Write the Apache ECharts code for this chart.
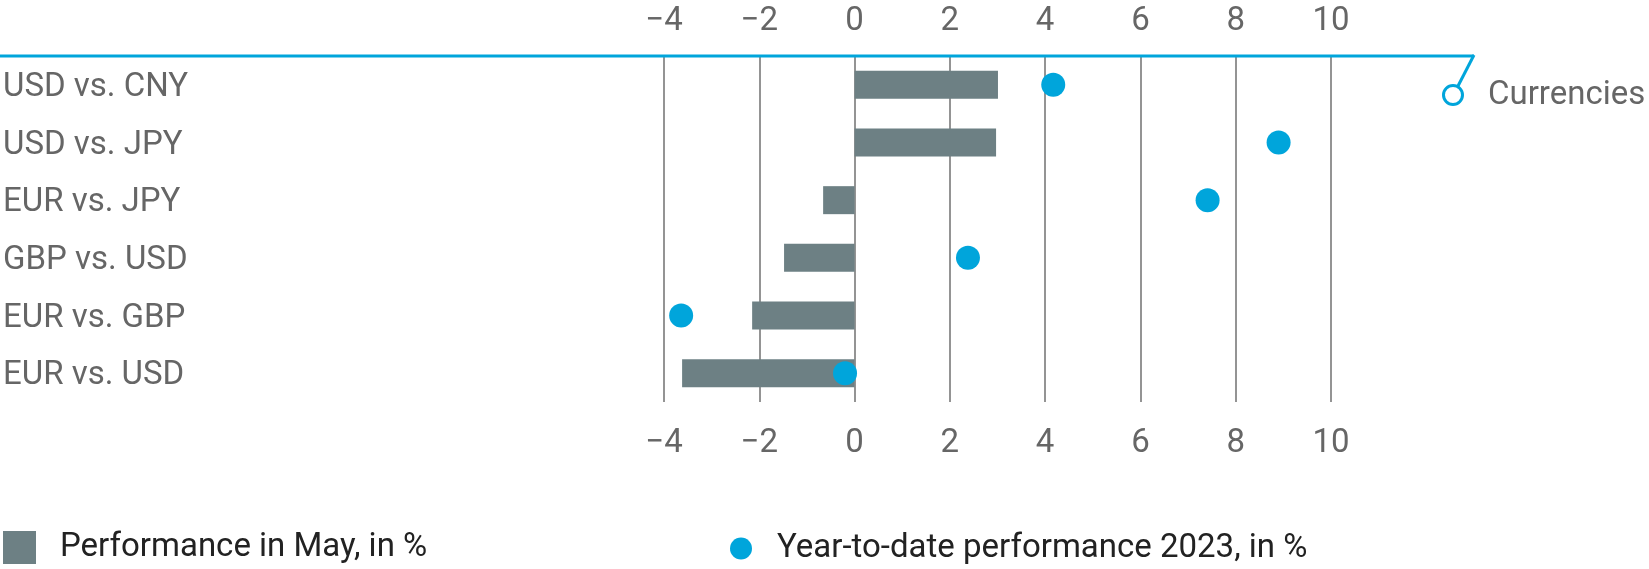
<!DOCTYPE html>
<html>
<head>
<meta charset="utf-8">
<script src="https://cdn.jsdelivr.net/npm/echarts@6/dist/echarts.min.js"></script>
<style>
html,body{margin:0;padding:0;background:#fff;}
#chart{width:1649px;height:569px;}
</style>
</head>
<body>
<div id="chart"></div>
<script>
const categories = ['USD vs. CNY', 'USD vs. JPY', 'EUR vs. JPY', 'GBP vs. USD', 'EUR vs. GBP', 'EUR vs. USD'];
const mayPerformance = [3.01, 2.97, -0.66, -1.48, -2.15, -3.62];
const ytdPerformance = [4.17, 8.9, 7.41, 2.38, -3.64, -0.2];
const xTicks = [-4, -2, 0, 2, 4, 6, 8, 10];
const seriesNames = ['Performance in May, in %', 'Year-to-date performance 2023, in %'];
const groupLabel = 'Currencies';

const BLUE = '#00a5db';
const BAR = '#6d8084';
const FONT = 'Roboto';
const FS = 33;
const gridLeft = 664, gridRight = 318, gridTop = 56, gridBottom = 167;

const chart = echarts.init(document.getElementById('chart'), null, {renderer: 'canvas'});
const fmt = v => (v < 0 ? '\u2212' + Math.abs(v) : String(v));
const xBase = {
  type: 'value',
  min: xTicks[0],
  max: xTicks[xTicks.length - 1],
  interval: xTicks[1] - xTicks[0],
  axisLine: {show: false},
  axisTick: {show: false},
  axisLabel: {color: '#666', fontFamily: FONT, fontSize: FS, formatter: fmt}
};
chart.setOption({
  animation: false,
  grid: {left: gridLeft, right: gridRight, top: gridTop, bottom: gridBottom, containLabel: false},
  xAxis: [
    Object.assign({}, xBase, {position: 'top', axisLabel: Object.assign({}, xBase.axisLabel, {margin: 18}),
      splitLine: {show: true, lineStyle: {color: '#707070', width: 1.5}}}),
    Object.assign({}, xBase, {position: 'bottom', axisLabel: Object.assign({}, xBase.axisLabel, {margin: 25}),
      splitLine: {show: false}})
  ],
  yAxis: {
    type: 'category',
    inverse: true,
    data: categories,
    axisLine: {show: false},
    axisTick: {show: false},
    splitLine: {show: false},
    axisLabel: {
      align: 'left', margin: gridLeft - 3,
      formatter: v => '{c|' + v + '}',
      rich: {c: {color: '#666', fontFamily: FONT, fontSize: FS, padding: [6, 0, 0, 0]}}
    }
  },
  legend: [
    {data: [seriesNames[0]], left: 3, top: 531, padding: 0, itemWidth: 33, itemHeight: 33, icon: 'rect',
     textStyle: {color: '#222', fontFamily: FONT, fontSize: FS, padding: [2, 0, 0, 19]}},
    {data: [seriesNames[1]], left: 730, top: 532, padding: 0, itemWidth: 22, itemHeight: 22, icon: 'circle',
     textStyle: {color: '#222', fontFamily: FONT, fontSize: FS, padding: [2, 0, 0, 20]}}
  ],
  series: [
    {name: seriesNames[0], type: 'bar', data: mayPerformance, barWidth: 28, itemStyle: {color: BAR}, xAxisIndex: 0},
    {name: seriesNames[1], type: 'scatter', data: ytdPerformance, symbolSize: 24, itemStyle: {color: BLUE, opacity: 1}, xAxisIndex: 0, z: 5}
  ],
  graphic: [
    {type: 'line', shape: {x1: 0, y1: gridTop, x2: 1474, y2: gridTop}, style: {stroke: BLUE, lineWidth: 3}, z: 10},
    {type: 'line', shape: {x1: 1474, y1: gridTop - 1, x2: 1458, y2: 86}, style: {stroke: BLUE, lineWidth: 3}, z: 10},
    {type: 'circle', shape: {cx: 1453, cy: 95, r: 9.5}, style: {stroke: BLUE, lineWidth: 3, fill: '#fff'}, z: 10},
    {type: 'text', x: 1488, y: 96, style: {text: groupLabel, fill: '#666', font: FS + 'px ' + FONT, textVerticalAlign: 'middle'}, z: 10}
  ]
});
</script>
</body>
</html>
